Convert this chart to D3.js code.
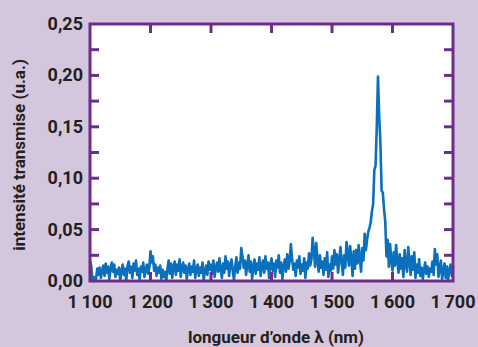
<!DOCTYPE html>
<html><head><meta charset="utf-8">
<script src="https://cdn.jsdelivr.net/npm/d3@7"></script>
<style>
html,body{margin:0;padding:0;background:#d3c6dd;}
svg{display:block;}
text{font-family:Roboto,"DejaVu Sans",sans-serif;font-weight:700;fill:#231f20;}
</style></head>
<body><svg id="c" width="478" height="347"></svg>
<script>
// wavelengths (nm), 2 nm grid from 1100 to 1700
const wavelengths = d3.range(1100, 1701, 2);
// transmitted intensity (a.u.)
const intensity = [
0.019,0.015,0.000,0.004,0.000,0.002,0.012,0.006,0.013,0.003,
0.010,0.015,0.005,0.017,0.008,0.014,0.002,0.012,0.018,0.009,
0.016,0.004,0.011,0.007,0.013,0.001,0.009,0.016,0.006,0.012,
0.000,0.015,0.019,0.008,0.014,0.003,0.017,0.010,0.020,0.006,
0.012,0.001,0.014,0.009,0.018,0.004,0.011,0.016,0.007,0.013,
0.029,0.018,0.024,0.010,0.016,0.005,0.013,0.008,0.015,0.002,
0.011,0.004,0.009,0.000,0.012,0.020,0.007,0.017,0.003,0.014,
0.019,0.006,0.016,0.010,0.021,0.004,0.013,0.018,0.008,0.015,
0.002,0.011,0.017,0.006,0.014,0.009,0.020,0.003,0.012,0.016,
0.005,0.013,0.008,0.018,0.001,0.010,0.015,0.006,0.019,0.011,
0.016,0.007,0.020,0.004,0.013,0.018,0.009,0.022,0.011,0.003,
0.017,0.008,0.024,0.012,0.019,0.005,0.015,0.021,0.010,0.001,
0.014,0.023,0.008,0.018,0.012,0.032,0.024,0.013,0.020,0.006,
0.016,0.025,0.009,0.019,0.002,0.014,0.021,0.007,0.017,0.011,
0.023,0.005,0.015,0.020,0.008,0.024,0.012,0.018,0.003,0.016,
0.022,0.010,0.017,0.004,0.020,0.013,0.025,0.008,0.018,0.002,
0.014,0.021,0.009,0.026,0.012,0.019,0.036,0.022,0.011,0.017,
0.005,0.020,0.013,0.024,0.007,0.016,0.010,0.022,0.003,0.018,
0.012,0.027,0.015,0.021,0.042,0.030,0.014,0.037,0.020,0.009,
0.025,0.013,0.019,0.006,0.022,0.011,0.028,0.004,0.016,0.010,
0.024,0.012,0.030,0.016,0.026,0.008,0.020,0.033,0.018,0.006,
0.025,0.013,0.038,0.027,0.015,0.034,0.021,0.005,0.029,0.012,
0.030,0.017,0.035,0.022,0.009,0.032,0.020,0.046,0.030,0.040,
0.048,0.052,0.057,0.068,0.075,0.108,0.112,0.150,0.199,0.160,
0.135,0.088,0.086,0.070,0.058,0.024,0.040,0.014,0.036,0.020,
0.010,0.028,0.015,0.035,0.019,0.008,0.026,0.012,0.022,0.004,
0.030,0.017,0.009,0.033,0.020,0.006,0.024,0.011,0.028,0.003,
0.016,0.008,0.021,0.005,0.013,0.002,0.010,0.018,0.007,0.014,
0.004,0.012,0.009,0.019,0.006,0.031,0.016,0.026,0.004,0.012,
0.020,0.002,0.009,0.017,0.003,0.014,0.001,0.011,0.016,0.005,
0.014
];
const xTicks = [1100,1200,1300,1400,1500,1600,1700];
const xTickLabels = ["1\u2009100","1\u2009200","1\u2009300","1\u2009400","1\u2009500","1\u2009600","1\u2009700"];
const yTicks = [0,0.05,0.10,0.15,0.20,0.25];
const yTickLabels = ["0,00","0,05","0,10","0,15","0,20","0,25"];
const yMinorTicks = [0.025,0.05,0.075,0.1,0.125,0.15,0.175,0.2,0.225];
const xInnerTicks = [1200,1300,1400,1500,1600];

const svg = d3.select("#c");
const L=90,R=453,T=24,B=281;
const x = d3.scaleLinear().domain([1100,1700]).range([L,R]);
const y = d3.scaleLinear().domain([0,0.25]).range([B,T]);
const purple = "#6c2d8c";

svg.append("rect").attr("x",L).attr("y",T).attr("width",R-L).attr("height",B-T).attr("fill","#fff");

const data = wavelengths.map((w,i)=>[w,intensity[i]]);
svg.append("path").datum(data)
  .attr("fill","none").attr("stroke","#0a6fbd").attr("stroke-width",2.6)
  .attr("stroke-linejoin","round")
  .attr("d", d3.line().x(d=>x(d[0])).y(d=>y(d[1])));

// inward ticks
const tl = 9;
const g = svg.append("g").attr("stroke",purple).attr("stroke-width",3);
yMinorTicks.forEach(v=>{
  g.append("line").attr("x1",L).attr("x2",L+tl).attr("y1",y(v)).attr("y2",y(v));
  g.append("line").attr("x1",R).attr("x2",R-tl).attr("y1",y(v)).attr("y2",y(v));
});
xInnerTicks.forEach(v=>{
  g.append("line").attr("y1",B).attr("y2",B-tl).attr("x1",x(v)).attr("x2",x(v));
  g.append("line").attr("y1",T).attr("y2",T+tl).attr("x1",x(v)).attr("x2",x(v));
});
svg.append("rect").attr("x",L).attr("y",T).attr("width",R-L).attr("height",B-T)
  .attr("fill","none").attr("stroke",purple).attr("stroke-width",3);

// labels
svg.append("g").selectAll("text").data(xTicks).join("text")
  .attr("x",d=>x(d)).attr("y",308).attr("text-anchor","middle")
  .attr("font-size",18).text((d,i)=>xTickLabels[i]);
svg.append("g").selectAll("text").data(yTicks).join("text")
  .attr("x",83).attr("y",d=>y(d)+6).attr("text-anchor","end")
  .attr("font-size",18).text((d,i)=>yTickLabels[i]);

svg.append("text").attr("x",276).attr("y",343).attr("text-anchor","middle")
  .attr("font-size",17).text("longueur d\u2019onde \u03bb (nm)");
svg.append("text").attr("transform","translate(25,155) rotate(-90)").attr("text-anchor","middle")
  .attr("font-size",17).text("intensité transmise (u.a.)");
</script></body></html>
